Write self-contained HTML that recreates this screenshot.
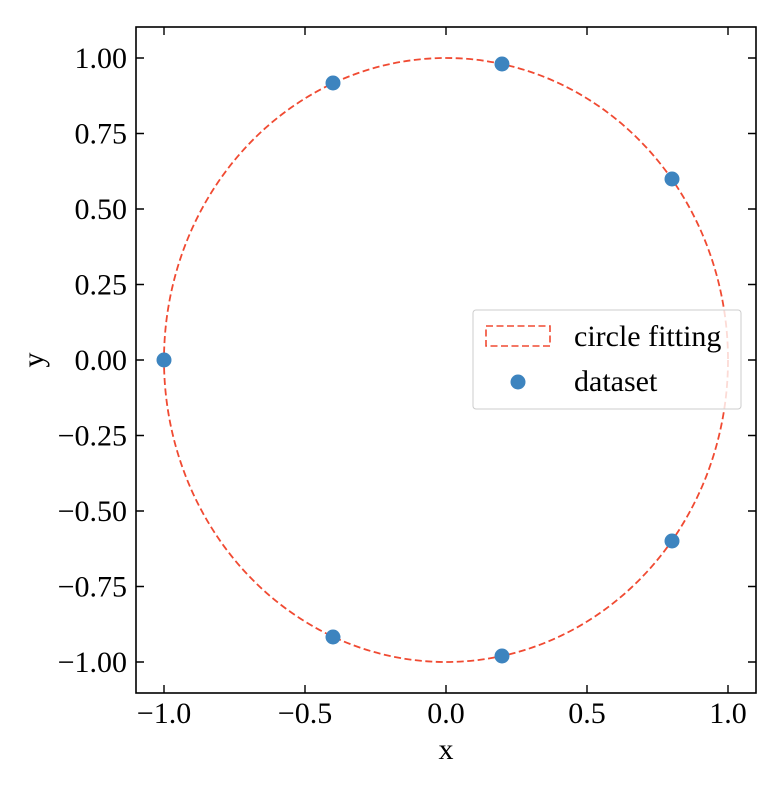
<!DOCTYPE html>
<html><head><style>body{margin:0;background:#fff}</style></head><body>
<svg width="768" height="783" xmlns="http://www.w3.org/2000/svg" font-family="Liberation Serif, serif" font-size="30">
<rect width="768" height="783" fill="#fff"/>
<ellipse cx="446" cy="360" rx="282" ry="302" fill="none" stroke="#f04a32" stroke-width="1.8" stroke-dasharray="7,3.5"/>
<g fill="#3d84bf">
<circle cx="164" cy="360" r="7.5"/><circle cx="333" cy="83" r="7.5"/><circle cx="502" cy="64" r="7.5"/>
<circle cx="672" cy="179" r="7.5"/><circle cx="672" cy="541" r="7.5"/><circle cx="502" cy="656" r="7.5"/><circle cx="333" cy="637" r="7.5"/>
</g>
<rect x="136" y="27" width="620" height="666" fill="none" stroke="#000" stroke-width="1.6"/>
<g stroke="#000" stroke-width="1.4">
<path d="M164 693v-8M305 693v-8M446 693v-8M587 693v-8M728 693v-8M164 27v8M305 27v8M446 27v8M587 27v8M728 27v8"/>
<path d="M136 58h8M136 133.5h8M136 209h8M136 284.5h8M136 360h8M136 435.5h8M136 511h8M136 586.5h8M136 662h8M756 58h-8M756 133.5h-8M756 209h-8M756 284.5h-8M756 360h-8M756 435.5h-8M756 511h-8M756 586.5h-8M756 662h-8"/>
</g>
<g text-anchor="middle">
<text x="164" y="723">−1.0</text><text x="305" y="723">−0.5</text><text x="446" y="723">0.0</text><text x="587" y="723">0.5</text><text x="728" y="723">1.0</text>
<text x="446" y="759">x</text>
</g>
<g text-anchor="end">
<text x="127" y="68">1.00</text><text x="127" y="143.5">0.75</text><text x="127" y="219">0.50</text><text x="127" y="294.5">0.25</text><text x="127" y="370">0.00</text><text x="127" y="445.5">−0.25</text><text x="127" y="521">−0.50</text><text x="127" y="596.5">−0.75</text><text x="127" y="672">−1.00</text>
</g>
<text transform="translate(43,360) rotate(-90)" text-anchor="middle">y</text>
<rect x="473" y="310" width="268" height="99" rx="3" fill="#fff" fill-opacity="0.8" stroke="#ccc" stroke-width="1"/>
<rect x="486" y="326" width="64" height="20" fill="none" stroke="#f04a32" stroke-width="1.6" stroke-dasharray="7,3.5"/>
<text x="574" y="346">circle fitting</text>
<circle cx="518" cy="382" r="7.5" fill="#3d84bf"/>
<text x="574" y="391">dataset</text>
</svg>
</body></html>
